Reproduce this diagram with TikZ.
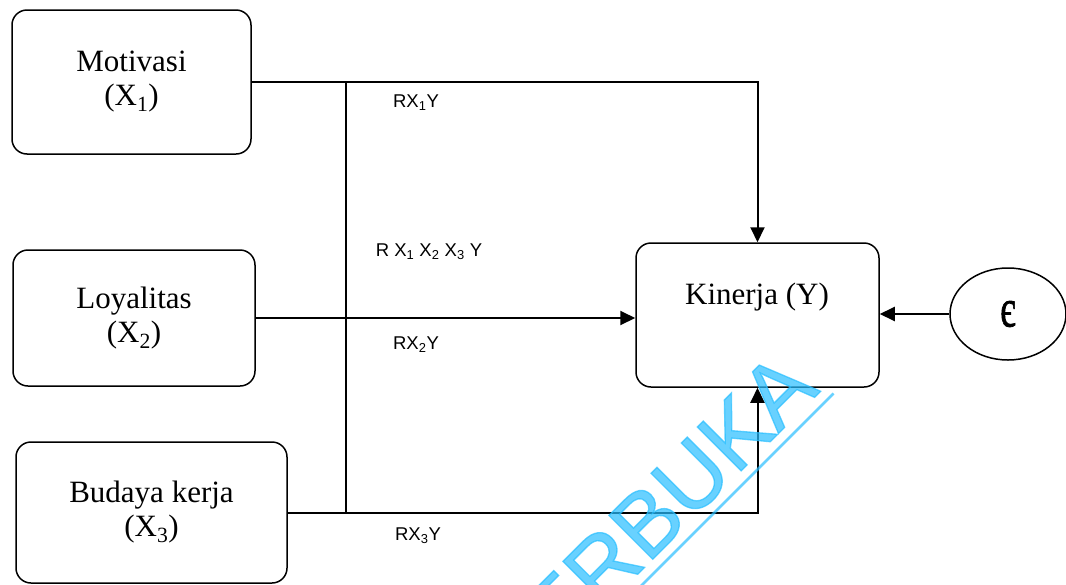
\documentclass[tikz,border=0pt]{standalone}
\usepackage{fontspec}
\setmainfont{Liberation Serif}
\newfontfamily\wmfont[FakeBold=1.5]{Liberation Sans}
\newfontfamily\lblfont{Liberation Sans}
\newfontfamily\epsfont[FakeBold=1.5]{Liberation Serif}
\usetikzlibrary{arrows.meta,shapes.geometric}
\definecolor{wmblue}{RGB}{40,190,255}
\begin{document}
\begin{tikzpicture}[x=1pt,y=-1pt,
  box/.style={draw, line width=1.5pt, rounded corners=15pt, align=center, inner sep=0pt,
    font=\fontsize{31}{34}\selectfont},
  txt/.style={inner sep=0pt, font=\fontsize{31}{34}\selectfont},
  lbl/.style={inner sep=0pt, font=\lblfont\fontsize{18.5}{21}\selectfont},
  link/.style={line width=2pt},
  arr/.style={link, -{Triangle[length=15pt,width=14pt]}},
  wmtext/.style={inner sep=0pt, text=wmblue, opacity=0.7, rotate=45,
    font=\wmfont\fontsize{90}{90}\selectfont},
  wmline/.style={draw=wmblue, opacity=0.7, line width=2.5pt}]
\useasboundingbox (0,0) rectangle (1066,584);
% boxes
\node[box, minimum width=239pt, minimum height=144pt] (x1) at (131.5,82) {Motivasi\\(X\textsubscript{1})};
\node[box, minimum width=242pt, minimum height=136pt] (x2) at (134,318) {Loyalitas\\(X\textsubscript{2})};
\node[box, minimum width=271pt, minimum height=141pt] (x3) at (151.5,512.5) {Budaya kerja\\(X\textsubscript{3})};
\node[box, minimum width=243pt, minimum height=144pt] (y) at (757.5,315) {};
\node[txt] (yt) at (757,297) {Kinerja (Y)};
\node[draw, line width=1.5pt, ellipse, minimum width=116pt, minimum height=92pt, inner sep=0pt] (e) at (1008,314)
  {\epsfont\fontsize{31}{31}\selectfont\scalebox{1.15}[1.75]{є}};
% connectors
\coordinate (v) at (346,0);
\draw[arr] (x1.east) -| (y.north);
\draw[arr] (x2.east) -- (x2.east -| y.west);
\draw[arr] (x3.east) -| (y.south);
\draw[link] (v |- x1.east) -- (v |- x3.east);
\draw[arr] (e.west) -- (e.west -| y.east);
% labels
\node[lbl] (l1) at (416,103) {RX\textsubscript{1}Y};
\node[lbl] (l123) at (429,252) {R X\textsubscript{1} X\textsubscript{2} X\textsubscript{3} Y};
\node[lbl] (l2) at (416,345) {RX\textsubscript{2}Y};
\node[lbl] (l3) at (418,536) {RX\textsubscript{3}Y};
% watermark
\begin{scope}
\clip (0,0) rectangle (1066,584);
\node[wmtext, anchor=base west] (wm) at (559,653) {ERBUKA};
\draw[wmline] (583.5,643.5) -- (833.5,393.5);
\end{scope}
\end{tikzpicture}
\end{document}
